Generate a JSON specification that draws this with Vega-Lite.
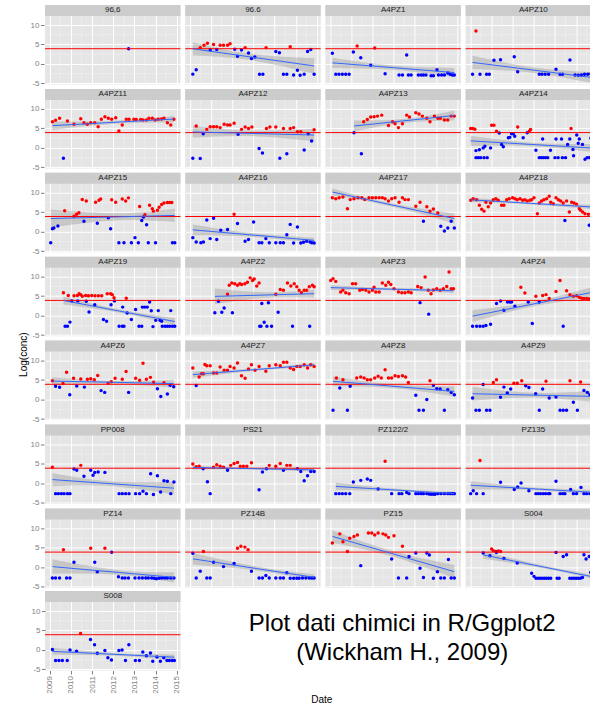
{
"$schema":"https://vega.github.io/schema/vega-lite/v6.json",
"background":"white",
"padding":{"left":19,"top":4,"right":0,"bottom":0},
"config":{"font":"Liberation Sans","view":{"fill":"#E5E5E5","stroke":null},
"axis":{"labelFont":"Liberation Sans","labelFontSize":8,"labelColor":"#7F7F7F","tickColor":"#7F7F7F","tickSize":3.5,"labelPadding":1.5,"labelOverlap":false,"labelBound":false,"labelFlush":false,"tickCount":30},
"header":{"labels":false,"labelFontSize":1,"labelPadding":0,"labelExpr":"''"},
"headerFacet":{"labels":false,"labelFontSize":1,"labelPadding":0,"labelExpr":"''"},
"title":{"font":"Liberation Sans","fontSize":10,"fontWeight":"normal","color":"#000000"}},
"datasets":{"d":[
{"p":"96,6","k":"s"},{"p":"96.6","k":"s"},{"p":"A4PZ1","k":"s"},{"p":"A4PZ10","k":"s"},{"p":"A4PZ11","k":"s"},{"p":"A4PZ12","k":"s"},{"p":"A4PZ13","k":"s"},{"p":"A4PZ14","k":"s"},{"p":"A4PZ15","k":"s"},{"p":"A4PZ16","k":"s"},{"p":"A4PZ17","k":"s"},{"p":"A4PZ18","k":"s"},{"p":"A4PZ19","k":"s"},{"p":"A4PZ2","k":"s"},{"p":"A4PZ3","k":"s"},{"p":"A4PZ4","k":"s"},{"p":"A4PZ6","k":"s"},{"p":"A4PZ7","k":"s"},{"p":"A4PZ8","k":"s"},{"p":"A4PZ9","k":"s"},{"p":"PP008","k":"s"},{"p":"PS21","k":"s"},{"p":"PZ122/2","k":"s"},{"p":"PZ135","k":"s"},{"p":"PZ14","k":"s"},{"p":"PZ14B","k":"s"},{"p":"PZ15","k":"s"},{"p":"S004","k":"s"},{"p":"S008","k":"s"},

{"p":"96.6","t":2009.14,"f":3.9,"lo":2.2,"hi":5.6},{"p":"96.6","t":2011.8,"f":1.86,"lo":1.06,"hi":2.66},{"p":"96.6","t":2014.87,"f":-0.5,"lo":-2.5,"hi":1.5},
{"p":"A4PZ1","t":2009.11,"f":0.3,"lo":-1.0,"hi":1.6},{"p":"A4PZ1","t":2012.0,"f":-0.95,"lo":-1.5,"hi":-0.4},{"p":"A4PZ1","t":2014.87,"f":-2.2,"lo":-3.4,"hi":-1.0},
{"p":"A4PZ10","t":2009.11,"f":0.4,"lo":-1.3,"hi":2.1},{"p":"A4PZ10","t":2012.0,"f":-1.58,"lo":-2.28,"hi":-0.88},{"p":"A4PZ10","t":2014.95,"f":-3.6,"lo":-5.1,"hi":-2.1},
{"p":"A4PZ11","t":2009.13,"f":5.7,"lo":4.6,"hi":6.8},{"p":"A4PZ11","t":2011.9,"f":6.52,"lo":6.12,"hi":6.92},{"p":"A4PZ11","t":2014.87,"f":7.4,"lo":6.6,"hi":8.2},
{"p":"A4PZ12","t":2009.14,"f":4.1,"lo":2.6,"hi":5.6},{"p":"A4PZ12","t":2011.8,"f":3.73,"lo":3.03,"hi":4.43},{"p":"A4PZ12","t":2014.87,"f":3.3,"lo":1.7,"hi":4.9},
{"p":"A4PZ13","t":2010.13,"f":5.6,"lo":4.15,"hi":7.05},{"p":"A4PZ13","t":2012.4,"f":6.89,"lo":6.39,"hi":7.39},{"p":"A4PZ13","t":2014.87,"f":8.3,"lo":7.05,"hi":9.55},
{"p":"A4PZ14","t":2009.02,"f":1.8,"lo":0.5,"hi":3.1},{"p":"A4PZ14","t":2011.9,"f":0.88,"lo":0.43,"hi":1.33},{"p":"A4PZ14","t":2014.95,"f":-0.1,"lo":-1.2,"hi":1.0},
{"p":"A4PZ15","t":2009.05,"f":3.4,"lo":1.1,"hi":5.7},{"p":"A4PZ15","t":2012.3,"f":3.84,"lo":2.94,"hi":4.74},{"p":"A4PZ15","t":2014.91,"f":4.2,"lo":2.5,"hi":5.9},
{"p":"A4PZ16","t":2009.14,"f":0.5,"lo":-0.9,"hi":1.9},{"p":"A4PZ16","t":2011.9,"f":-0.8,"lo":-1.3,"hi":-0.3},{"p":"A4PZ16","t":2014.87,"f":-2.2,"lo":-2.9,"hi":-1.5},
{"p":"A4PZ17","t":2009.11,"f":10.2,"lo":9.3,"hi":11.1},{"p":"A4PZ17","t":2011.9,"f":6.91,"lo":6.51,"hi":7.31},{"p":"A4PZ17","t":2014.87,"f":3.4,"lo":2.1,"hi":4.7},
{"p":"A4PZ18","t":2009.02,"f":8.2,"lo":7.6,"hi":8.8},{"p":"A4PZ18","t":2011.9,"f":7.28,"lo":7.03,"hi":7.53},{"p":"A4PZ18","t":2014.95,"f":6.3,"lo":5.7,"hi":6.9},
{"p":"A4PZ19","t":2009.65,"f":3.9,"lo":2.9,"hi":4.9},{"p":"A4PZ19","t":2012.3,"f":1.18,"lo":0.78,"hi":1.58},{"p":"A4PZ19","t":2014.91,"f":-1.5,"lo":-2.4,"hi":-0.6},
{"p":"A4PZ2","t":2010.18,"f":4.95,"lo":2.95,"hi":6.95},{"p":"A4PZ2","t":2012.6,"f":5.31,"lo":4.61,"hi":6.01},{"p":"A4PZ2","t":2014.87,"f":5.65,"lo":4.65,"hi":6.65},
{"p":"A4PZ3","t":2009.03,"f":7.2,"lo":6.6,"hi":7.8},{"p":"A4PZ3","t":2011.9,"f":6.8,"lo":6.5,"hi":7.1},{"p":"A4PZ3","t":2014.83,"f":6.4,"lo":5.8,"hi":7.0},
{"p":"A4PZ4","t":2009.11,"f":-0.1,"lo":-1.6,"hi":1.4},{"p":"A4PZ4","t":2012.0,"f":3.02,"lo":2.42,"hi":3.62},{"p":"A4PZ4","t":2014.95,"f":6.2,"lo":4.8,"hi":7.6},
{"p":"A4PZ6","t":2009.13,"f":4.75,"lo":3.75,"hi":5.75},{"p":"A4PZ6","t":2011.9,"f":4.44,"lo":4.04,"hi":4.84},{"p":"A4PZ6","t":2014.86,"f":4.1,"lo":3.1,"hi":5.1},
{"p":"A4PZ7","t":2009.14,"f":6.4,"lo":5.6,"hi":7.2},{"p":"A4PZ7","t":2012.0,"f":7.65,"lo":7.35,"hi":7.95},{"p":"A4PZ7","t":2014.87,"f":8.9,"lo":8.4,"hi":9.4},
{"p":"A4PZ8","t":2009.14,"f":4.7,"lo":3.5,"hi":5.9},{"p":"A4PZ8","t":2011.9,"f":3.45,"lo":2.95,"hi":3.95},{"p":"A4PZ8","t":2014.87,"f":2.1,"lo":0.8,"hi":3.4},
{"p":"A4PZ9","t":2009.11,"f":1.5,"lo":-0.3,"hi":3.3},{"p":"A4PZ9","t":2012.0,"f":1.15,"lo":0.55,"hi":1.75},{"p":"A4PZ9","t":2014.95,"f":0.8,"lo":-0.7,"hi":2.3},
{"p":"PP008","t":2009.13,"f":1.0,"lo":-0.7,"hi":2.7},{"p":"PP008","t":2011.8,"f":-0.02,"lo":-0.62,"hi":0.58},{"p":"PP008","t":2014.87,"f":-1.2,"lo":-2.8,"hi":0.4},
{"p":"PS21","t":2009.14,"f":4.1,"lo":3.6,"hi":4.6},{"p":"PS21","t":2011.9,"f":3.81,"lo":3.61,"hi":4.01},{"p":"PS21","t":2014.87,"f":3.5,"lo":3.0,"hi":4.0},
{"p":"PZ122/2","t":2009.27,"f":-0.75,"lo":-1.75,"hi":0.25},{"p":"PZ122/2","t":2012.4,"f":-1.78,"lo":-2.08,"hi":-1.48},{"p":"PZ122/2","t":2014.87,"f":-2.6,"lo":-3.1,"hi":-2.1},
{"p":"PZ135","t":2009.02,"f":-0.45,"lo":-1.45,"hi":0.55},{"p":"PZ135","t":2012.2,"f":-1.44,"lo":-1.79,"hi":-1.09},{"p":"PZ135","t":2014.95,"f":-2.3,"lo":-3.0,"hi":-1.6},
{"p":"PZ14","t":2009.13,"f":0.2,"lo":-1.6,"hi":2.0},{"p":"PZ14","t":2012.3,"f":-1.32,"lo":-1.92,"hi":-0.72},{"p":"PZ14","t":2014.87,"f":-2.55,"lo":-3.85,"hi":-1.25},
{"p":"PZ14B","t":2009.14,"f":2.2,"lo":0.7,"hi":3.7},{"p":"PZ14B","t":2012.2,"f":-0.34,"lo":-0.84,"hi":0.16},{"p":"PZ14B","t":2014.87,"f":-2.55,"lo":-3.35,"hi":-1.75},
{"p":"PZ15","t":2009.11,"f":7.95,"lo":6.35,"hi":9.55},{"p":"PZ15","t":2011.9,"f":3.57,"lo":2.87,"hi":4.27},{"p":"PZ15","t":2014.87,"f":-1.1,"lo":-2.8,"hi":0.6},
{"p":"S004","t":2009.61,"f":3.2,"lo":2.2,"hi":4.2},{"p":"S004","t":2012.5,"f":0.06,"lo":-0.29,"hi":0.41},{"p":"S004","t":2014.95,"f":-2.6,"lo":-3.2,"hi":-2.0},
{"p":"S008","t":2009.13,"f":-0.35,"lo":-1.25,"hi":0.55},{"p":"S008","t":2012.0,"f":-1.1,"lo":-1.45,"hi":-0.75},{"p":"S008","t":2014.89,"f":-1.85,"lo":-2.55,"hi":-1.15},

{"p":"96,6","t":2012.73,"v":3.9},

{"p":"96.6","t":2009.14,"v":-2.6},{"p":"96.6","t":2009.30,"v":-1.5},{"p":"96.6","t":2009.49,"v":4.2},{"p":"96.6","t":2009.67,"v":4.8},{"p":"96.6","t":2009.83,"v":5.3},{"p":"96.6","t":2009.96,"v":3.6},{"p":"96.6","t":2010.12,"v":5.0},{"p":"96.6","t":2010.27,"v":3.7},{"p":"96.6","t":2010.43,"v":4.8},{"p":"96.6","t":2010.59,"v":4.8},{"p":"96.6","t":2010.78,"v":4.8},{"p":"96.6","t":2010.90,"v":5.2},{"p":"96.6","t":2011.12,"v":3.8},{"p":"96.6","t":2011.25,"v":2.0},{"p":"96.6","t":2011.44,"v":3.6},{"p":"96.6","t":2011.61,"v":4.2},{"p":"96.6","t":2011.77,"v":2.8},{"p":"96.6","t":2011.91,"v":1.4},{"p":"96.6","t":2012.07,"v":1.8},{"p":"96.6","t":2012.29,"v":-2.65},{"p":"96.6","t":2012.45,"v":-2.65},{"p":"96.6","t":2012.60,"v":4.2},{"p":"96.6","t":2013.06,"v":3.2},{"p":"96.6","t":2013.23,"v":2.9},{"p":"96.6","t":2013.42,"v":-2.65},{"p":"96.6","t":2013.58,"v":-2.65},{"p":"96.6","t":2013.74,"v":4.4},{"p":"96.6","t":2013.90,"v":-2.8},{"p":"96.6","t":2014.08,"v":-1.6},{"p":"96.6","t":2014.21,"v":-2.9},{"p":"96.6","t":2014.40,"v":-2.65},{"p":"96.6","t":2014.56,"v":3.2},{"p":"96.6","t":2014.71,"v":3.7},{"p":"96.6","t":2014.87,"v":-2.65},

{"p":"A4PZ1","t":2009.11,"v":2.74},{"p":"A4PZ1","t":2009.27,"v":-2.65},{"p":"A4PZ1","t":2009.42,"v":-2.65},{"p":"A4PZ1","t":2009.58,"v":-2.65},{"p":"A4PZ1","t":2009.74,"v":-2.65},{"p":"A4PZ1","t":2009.9,"v":-2.65},{"p":"A4PZ1","t":2010.1,"v":3.08},{"p":"A4PZ1","t":2010.28,"v":4.6},{"p":"A4PZ1","t":2010.45,"v":1.62},{"p":"A4PZ1","t":2010.92,"v":-0.34},{"p":"A4PZ1","t":2011.11,"v":4.1},{"p":"A4PZ1","t":2011.6,"v":-2.48},{"p":"A4PZ1","t":2012.26,"v":-2.82},{"p":"A4PZ1","t":2012.42,"v":-2.82},{"p":"A4PZ1","t":2012.62,"v":2.31},{"p":"A4PZ1","t":2012.7,"v":-2.82},{"p":"A4PZ1","t":2012.83,"v":-2.82},{"p":"A4PZ1","t":2013.17,"v":-2.82},{"p":"A4PZ1","t":2013.3,"v":-2.82},{"p":"A4PZ1","t":2013.41,"v":-2.82},{"p":"A4PZ1","t":2013.53,"v":-2.82},{"p":"A4PZ1","t":2013.77,"v":-3.0},{"p":"A4PZ1","t":2013.88,"v":-3.0},{"p":"A4PZ1","t":2014.05,"v":-1.45},{"p":"A4PZ1","t":2014.12,"v":-2.82},{"p":"A4PZ1","t":2014.27,"v":-2.82},{"p":"A4PZ1","t":2014.4,"v":-2.82},{"p":"A4PZ1","t":2014.56,"v":-2.3},{"p":"A4PZ1","t":2014.67,"v":-2.65},{"p":"A4PZ1","t":2014.78,"v":-2.82},{"p":"A4PZ1","t":2014.87,"v":-2.82},

{"p":"A4PZ10","t":2009.11,"v":-2.65},{"p":"A4PZ10","t":2009.27,"v":8.46},{"p":"A4PZ10","t":2009.46,"v":-2.65},{"p":"A4PZ10","t":2009.77,"v":-2.65},{"p":"A4PZ10","t":2009.9,"v":-2.65},{"p":"A4PZ10","t":2010.12,"v":0.94},{"p":"A4PZ10","t":2010.43,"v":1.11},{"p":"A4PZ10","t":2011.08,"v":1.88},{"p":"A4PZ10","t":2011.24,"v":-1.97},{"p":"A4PZ10","t":2012.26,"v":-2.65},{"p":"A4PZ10","t":2012.39,"v":-2.65},{"p":"A4PZ10","t":2012.54,"v":-2.65},{"p":"A4PZ10","t":2012.7,"v":-2.65},{"p":"A4PZ10","t":2013.05,"v":-1.37},{"p":"A4PZ10","t":2013.24,"v":-2.65},{"p":"A4PZ10","t":2013.36,"v":-2.65},{"p":"A4PZ10","t":2013.71,"v":1.03},{"p":"A4PZ10","t":2013.95,"v":-2.8},{"p":"A4PZ10","t":2014.1,"v":-2.9},{"p":"A4PZ10","t":2014.25,"v":-2.8},{"p":"A4PZ10","t":2014.4,"v":-2.65},{"p":"A4PZ10","t":2014.55,"v":-2.65},{"p":"A4PZ10","t":2014.7,"v":-2.5},{"p":"A4PZ10","t":2014.85,"v":-2.45},

{"p":"A4PZ11","t":2009.13,"v":6.73},{"p":"A4PZ11","t":2009.28,"v":7.07},{"p":"A4PZ11","t":2009.47,"v":7.58},{"p":"A4PZ11","t":2009.65,"v":-2.68},{"p":"A4PZ11","t":2009.84,"v":6.9},{"p":"A4PZ11","t":2010.15,"v":6.04},{"p":"A4PZ11","t":2010.47,"v":7.48},{"p":"A4PZ11","t":2010.62,"v":6.47},{"p":"A4PZ11","t":2010.78,"v":6.04},{"p":"A4PZ11","t":2010.94,"v":6.47},{"p":"A4PZ11","t":2011.13,"v":6.47},{"p":"A4PZ11","t":2011.29,"v":5.44},{"p":"A4PZ11","t":2011.44,"v":7.33},{"p":"A4PZ11","t":2011.61,"v":8.0},{"p":"A4PZ11","t":2011.77,"v":7.58},{"p":"A4PZ11","t":2011.93,"v":7.33},{"p":"A4PZ11","t":2012.12,"v":7.75},{"p":"A4PZ11","t":2012.27,"v":4.33},{"p":"A4PZ11","t":2012.43,"v":5.87},{"p":"A4PZ11","t":2012.62,"v":7.33},{"p":"A4PZ11","t":2012.75,"v":7.33},{"p":"A4PZ11","t":2012.98,"v":7.33},{"p":"A4PZ11","t":2013.09,"v":7.3},{"p":"A4PZ11","t":2013.3,"v":7.3},{"p":"A4PZ11","t":2013.41,"v":7.15},{"p":"A4PZ11","t":2013.57,"v":7.15},{"p":"A4PZ11","t":2013.69,"v":7.58},{"p":"A4PZ11","t":2013.85,"v":7.58},{"p":"A4PZ11","t":2013.98,"v":7.15},{"p":"A4PZ11","t":2014.13,"v":7.33},{"p":"A4PZ11","t":2014.29,"v":7.4},{"p":"A4PZ11","t":2014.4,"v":7.58},{"p":"A4PZ11","t":2014.56,"v":6.47},{"p":"A4PZ11","t":2014.72,"v":5.87},{"p":"A4PZ11","t":2014.87,"v":7.33},

{"p":"A4PZ12","t":2009.14,"v":-2.68},{"p":"A4PZ12","t":2009.3,"v":5.6},{"p":"A4PZ12","t":2009.49,"v":-2.7},{"p":"A4PZ12","t":2009.63,"v":3.6},{"p":"A4PZ12","t":2009.8,"v":4.75},{"p":"A4PZ12","t":2009.96,"v":5.44},{"p":"A4PZ12","t":2010.12,"v":5.44},{"p":"A4PZ12","t":2010.27,"v":5.44},{"p":"A4PZ12","t":2010.43,"v":5.2},{"p":"A4PZ12","t":2010.62,"v":6.04},{"p":"A4PZ12","t":2010.78,"v":5.87},{"p":"A4PZ12","t":2010.9,"v":5.87},{"p":"A4PZ12","t":2011.09,"v":6.3},{"p":"A4PZ12","t":2011.28,"v":3.47},{"p":"A4PZ12","t":2011.44,"v":4.75},{"p":"A4PZ12","t":2011.61,"v":5.35},{"p":"A4PZ12","t":2011.77,"v":5.0},{"p":"A4PZ12","t":2011.93,"v":5.35},{"p":"A4PZ12","t":2012.27,"v":-0.14},{"p":"A4PZ12","t":2012.43,"v":-1.3},{"p":"A4PZ12","t":2012.62,"v":5.0},{"p":"A4PZ12","t":2012.78,"v":5.35},{"p":"A4PZ12","t":2013.06,"v":5.35},{"p":"A4PZ12","t":2013.25,"v":-2.68},{"p":"A4PZ12","t":2013.42,"v":5.0},{"p":"A4PZ12","t":2013.58,"v":-1.5},{"p":"A4PZ12","t":2013.74,"v":5.0},{"p":"A4PZ12","t":2013.9,"v":5.2},{"p":"A4PZ12","t":2014.08,"v":4.16},{"p":"A4PZ12","t":2014.24,"v":4.16},{"p":"A4PZ12","t":2014.4,"v":-0.55},{"p":"A4PZ12","t":2014.59,"v":3.6},{"p":"A4PZ12","t":2014.75,"v":1.77},{"p":"A4PZ12","t":2014.87,"v":4.67},

{"p":"A4PZ13","t":2010.13,"v":3.9},{"p":"A4PZ13","t":2010.48,"v":-1.5},{"p":"A4PZ13","t":2010.59,"v":6.7},{"p":"A4PZ13","t":2010.76,"v":7.3},{"p":"A4PZ13","t":2010.92,"v":7.9},{"p":"A4PZ13","t":2011.08,"v":8.0},{"p":"A4PZ13","t":2011.24,"v":8.15},{"p":"A4PZ13","t":2011.44,"v":8.4},{"p":"A4PZ13","t":2011.76,"v":5.75},{"p":"A4PZ13","t":2011.95,"v":6.7},{"p":"A4PZ13","t":2012.07,"v":6.2},{"p":"A4PZ13","t":2012.23,"v":5.2},{"p":"A4PZ13","t":2012.42,"v":6.2},{"p":"A4PZ13","t":2012.62,"v":8.4},{"p":"A4PZ13","t":2012.75,"v":7.9},{"p":"A4PZ13","t":2013.05,"v":9.0},{"p":"A4PZ13","t":2013.2,"v":8.7},{"p":"A4PZ13","t":2013.36,"v":8.15},{"p":"A4PZ13","t":2013.57,"v":7.6},{"p":"A4PZ13","t":2013.72,"v":6.7},{"p":"A4PZ13","t":2013.93,"v":8.15},{"p":"A4PZ13","t":2014.09,"v":7.6},{"p":"A4PZ13","t":2014.21,"v":7.6},{"p":"A4PZ13","t":2014.4,"v":7.15},{"p":"A4PZ13","t":2014.56,"v":7.15},{"p":"A4PZ13","t":2014.72,"v":8.15},{"p":"A4PZ13","t":2014.87,"v":8.15},

{"p":"A4PZ14","t":2009.02,"v":5.0},{"p":"A4PZ14","t":2009.12,"v":5.0},{"p":"A4PZ14","t":2009.22,"v":4.8},{"p":"A4PZ14","t":2009.27,"v":-0.7},{"p":"A4PZ14","t":2009.43,"v":-0.5},{"p":"A4PZ14","t":2009.61,"v":0.0},{"p":"A4PZ14","t":2009.69,"v":0.4},{"p":"A4PZ14","t":2009.96,"v":0.0},{"p":"A4PZ14","t":2009.27,"v":-2.5},{"p":"A4PZ14","t":2009.38,"v":-2.5},{"p":"A4PZ14","t":2009.49,"v":-2.5},{"p":"A4PZ14","t":2009.65,"v":-2.5},{"p":"A4PZ14","t":2009.8,"v":-2.5},{"p":"A4PZ14","t":2010.01,"v":5.8},{"p":"A4PZ14","t":2010.12,"v":5.8},{"p":"A4PZ14","t":2010.24,"v":4.3},{"p":"A4PZ14","t":2010.37,"v":3.8},{"p":"A4PZ14","t":2010.48,"v":0.9},{"p":"A4PZ14","t":2010.56,"v":0.3},{"p":"A4PZ14","t":2010.8,"v":2.6},{"p":"A4PZ14","t":2010.87,"v":2.7},{"p":"A4PZ14","t":2010.95,"v":3.6},{"p":"A4PZ14","t":2011.03,"v":3.6},{"p":"A4PZ14","t":2011.1,"v":3.0},{"p":"A4PZ14","t":2011.24,"v":5.35},{"p":"A4PZ14","t":2011.5,"v":2.6},{"p":"A4PZ14","t":2011.69,"v":3.9},{"p":"A4PZ14","t":2011.79,"v":4.3},{"p":"A4PZ14","t":2011.85,"v":4.7},{"p":"A4PZ14","t":2012.1,"v":-0.6},{"p":"A4PZ14","t":2012.26,"v":-2.5},{"p":"A4PZ14","t":2012.36,"v":-2.5},{"p":"A4PZ14","t":2012.46,"v":-2.5},{"p":"A4PZ14","t":2012.56,"v":-2.5},{"p":"A4PZ14","t":2012.66,"v":-2.5},{"p":"A4PZ14","t":2012.42,"v":2.3},{"p":"A4PZ14","t":2012.79,"v":-0.6},{"p":"A4PZ14","t":2013.0,"v":-2.5},{"p":"A4PZ14","t":2013.05,"v":2.3},{"p":"A4PZ14","t":2013.15,"v":-2.5},{"p":"A4PZ14","t":2013.31,"v":2.3},{"p":"A4PZ14","t":2013.35,"v":-2.5},{"p":"A4PZ14","t":2013.5,"v":-2.5},{"p":"A4PZ14","t":2013.6,"v":0.9},{"p":"A4PZ14","t":2013.7,"v":2.3},{"p":"A4PZ14","t":2013.76,"v":5.0},{"p":"A4PZ14","t":2013.85,"v":-0.4},{"p":"A4PZ14","t":2013.88,"v":-2.0},{"p":"A4PZ14","t":2014.03,"v":3.3},{"p":"A4PZ14","t":2014.1,"v":1.2},{"p":"A4PZ14","t":2014.15,"v":2.3},{"p":"A4PZ14","t":2014.3,"v":0.9},{"p":"A4PZ14","t":2014.42,"v":-2.9},{"p":"A4PZ14","t":2014.52,"v":-2.5},{"p":"A4PZ14","t":2014.62,"v":-2.5},{"p":"A4PZ14","t":2014.72,"v":-2.5},{"p":"A4PZ14","t":2014.7,"v":2.5},{"p":"A4PZ14","t":2014.78,"v":4.5},{"p":"A4PZ14","t":2014.85,"v":3.5},

{"p":"A4PZ15","t":2009.05,"v":-2.8},{"p":"A4PZ15","t":2009.13,"v":0.8},{"p":"A4PZ15","t":2009.2,"v":1.0},{"p":"A4PZ15","t":2009.39,"v":1.5},{"p":"A4PZ15","t":2009.71,"v":5.4},{"p":"A4PZ15","t":2010.15,"v":4.0},{"p":"A4PZ15","t":2010.27,"v":4.5},{"p":"A4PZ15","t":2010.38,"v":4.9},{"p":"A4PZ15","t":2010.54,"v":8.3},{"p":"A4PZ15","t":2010.62,"v":2.7},{"p":"A4PZ15","t":2010.73,"v":7.9},{"p":"A4PZ15","t":2011.17,"v":7.6},{"p":"A4PZ15","t":2011.25,"v":2.2},{"p":"A4PZ15","t":2011.33,"v":8.1},{"p":"A4PZ15","t":2011.41,"v":8.4},{"p":"A4PZ15","t":2011.77,"v":3.6},{"p":"A4PZ15","t":2011.88,"v":0.8},{"p":"A4PZ15","t":2011.93,"v":8.2},{"p":"A4PZ15","t":2012.12,"v":7.6},{"p":"A4PZ15","t":2012.27,"v":-2.8},{"p":"A4PZ15","t":2012.43,"v":8.4},{"p":"A4PZ15","t":2012.51,"v":-2.8},{"p":"A4PZ15","t":2012.59,"v":7.9},{"p":"A4PZ15","t":2012.72,"v":8.7},{"p":"A4PZ15","t":2012.86,"v":-2.8},{"p":"A4PZ15","t":2013.03,"v":-1.5},{"p":"A4PZ15","t":2013.19,"v":-2.8},{"p":"A4PZ15","t":2013.25,"v":6.5},{"p":"A4PZ15","t":2013.35,"v":2.9},{"p":"A4PZ15","t":2013.43,"v":3.8},{"p":"A4PZ15","t":2013.5,"v":4.4},{"p":"A4PZ15","t":2013.58,"v":1.8},{"p":"A4PZ15","t":2013.66,"v":-2.8},{"p":"A4PZ15","t":2013.72,"v":6.8},{"p":"A4PZ15","t":2013.85,"v":5.9},{"p":"A4PZ15","t":2013.9,"v":5.3},{"p":"A4PZ15","t":2014.0,"v":-2.8},{"p":"A4PZ15","t":2014.09,"v":5.5},{"p":"A4PZ15","t":2014.17,"v":6.3},{"p":"A4PZ15","t":2014.29,"v":7.0},{"p":"A4PZ15","t":2014.4,"v":7.4},{"p":"A4PZ15","t":2014.56,"v":7.5},{"p":"A4PZ15","t":2014.67,"v":7.5},{"p":"A4PZ15","t":2014.77,"v":7.5},{"p":"A4PZ15","t":2014.8,"v":-2.8},{"p":"A4PZ15","t":2014.91,"v":-2.8},

{"p":"A4PZ16","t":2009.14,"v":-1.5},{"p":"A4PZ16","t":2009.3,"v":-2.6},{"p":"A4PZ16","t":2009.52,"v":-2.8},{"p":"A4PZ16","t":2009.64,"v":-2.6},{"p":"A4PZ16","t":2009.8,"v":3.0},{"p":"A4PZ16","t":2009.96,"v":-1.75},{"p":"A4PZ16","t":2010.12,"v":3.5},{"p":"A4PZ16","t":2010.27,"v":-2.0},{"p":"A4PZ16","t":2010.46,"v":0.4},{"p":"A4PZ16","t":2010.78,"v":0.6},{"p":"A4PZ16","t":2011.09,"v":4.5},{"p":"A4PZ16","t":2011.25,"v":2.1},{"p":"A4PZ16","t":2011.61,"v":-2.4},{"p":"A4PZ16","t":2011.77,"v":-2.0},{"p":"A4PZ16","t":2012.01,"v":2.5},{"p":"A4PZ16","t":2012.27,"v":-2.8},{"p":"A4PZ16","t":2012.4,"v":-2.8},{"p":"A4PZ16","t":2012.59,"v":-1.75},{"p":"A4PZ16","t":2012.75,"v":-2.8},{"p":"A4PZ16","t":2013.06,"v":-2.8},{"p":"A4PZ16","t":2013.27,"v":-2.8},{"p":"A4PZ16","t":2013.42,"v":-2.8},{"p":"A4PZ16","t":2013.58,"v":-0.75},{"p":"A4PZ16","t":2013.74,"v":1.9},{"p":"A4PZ16","t":2013.9,"v":-2.85},{"p":"A4PZ16","t":2014.08,"v":1.25},{"p":"A4PZ16","t":2014.24,"v":-2.85},{"p":"A4PZ16","t":2014.37,"v":-2.7},{"p":"A4PZ16","t":2014.52,"v":-2.4},{"p":"A4PZ16","t":2014.68,"v":-2.6},{"p":"A4PZ16","t":2014.76,"v":-2.8},{"p":"A4PZ16","t":2014.87,"v":-2.85},

{"p":"A4PZ17","t":2009.11,"v":8.75},{"p":"A4PZ17","t":2009.27,"v":8.5},{"p":"A4PZ17","t":2009.43,"v":8.75},{"p":"A4PZ17","t":2009.61,"v":8.9},{"p":"A4PZ17","t":2009.82,"v":5.9},{"p":"A4PZ17","t":2009.95,"v":8.25},{"p":"A4PZ17","t":2010.13,"v":8.5},{"p":"A4PZ17","t":2010.32,"v":8.75},{"p":"A4PZ17","t":2010.5,"v":8.75},{"p":"A4PZ17","t":2010.64,"v":8.25},{"p":"A4PZ17","t":2010.84,"v":8.75},{"p":"A4PZ17","t":2011.0,"v":8.75},{"p":"A4PZ17","t":2011.16,"v":8.75},{"p":"A4PZ17","t":2011.32,"v":8.75},{"p":"A4PZ17","t":2011.47,"v":8.75},{"p":"A4PZ17","t":2011.6,"v":8.5},{"p":"A4PZ17","t":2011.76,"v":7.9},{"p":"A4PZ17","t":2011.91,"v":8.5},{"p":"A4PZ17","t":2012.07,"v":8.75},{"p":"A4PZ17","t":2012.26,"v":7.6},{"p":"A4PZ17","t":2012.42,"v":8.75},{"p":"A4PZ17","t":2012.54,"v":8.25},{"p":"A4PZ17","t":2012.7,"v":8.25},{"p":"A4PZ17","t":2013.05,"v":6.55},{"p":"A4PZ17","t":2013.25,"v":7.55},{"p":"A4PZ17","t":2013.41,"v":2.7},{"p":"A4PZ17","t":2013.57,"v":6.4},{"p":"A4PZ17","t":2013.72,"v":5.25},{"p":"A4PZ17","t":2013.88,"v":5.85},{"p":"A4PZ17","t":2014.09,"v":4.8},{"p":"A4PZ17","t":2014.23,"v":1.4},{"p":"A4PZ17","t":2014.4,"v":0.2},{"p":"A4PZ17","t":2014.56,"v":1.0},{"p":"A4PZ17","t":2014.72,"v":2.7},{"p":"A4PZ17","t":2014.87,"v":1.0},

{"p":"A4PZ18","t":2009.02,"v":8.1},{"p":"A4PZ18","t":2009.14,"v":8.5},{"p":"A4PZ18","t":2009.3,"v":8.2},{"p":"A4PZ18","t":2009.43,"v":6.8},{"p":"A4PZ18","t":2009.54,"v":5.8},{"p":"A4PZ18","t":2009.65,"v":5.3},{"p":"A4PZ18","t":2009.74,"v":7.6},{"p":"A4PZ18","t":2009.85,"v":6.4},{"p":"A4PZ18","t":2009.96,"v":7.4},{"p":"A4PZ18","t":2010.09,"v":8.2},{"p":"A4PZ18","t":2010.21,"v":8.5},{"p":"A4PZ18","t":2010.32,"v":8.1},{"p":"A4PZ18","t":2010.48,"v":6.8},{"p":"A4PZ18","t":2010.59,"v":6.8},{"p":"A4PZ18","t":2010.72,"v":8.2},{"p":"A4PZ18","t":2010.84,"v":8.5},{"p":"A4PZ18","t":2011.0,"v":8.75},{"p":"A4PZ18","t":2011.11,"v":8.5},{"p":"A4PZ18","t":2011.22,"v":8.2},{"p":"A4PZ18","t":2011.35,"v":8.5},{"p":"A4PZ18","t":2011.47,"v":8.1},{"p":"A4PZ18","t":2011.58,"v":8.2},{"p":"A4PZ18","t":2011.69,"v":7.9},{"p":"A4PZ18","t":2011.82,"v":8.1},{"p":"A4PZ18","t":2011.9,"v":8.2},{"p":"A4PZ18","t":2012.01,"v":8.75},{"p":"A4PZ18","t":2012.17,"v":4.6},{"p":"A4PZ18","t":2012.26,"v":7.4},{"p":"A4PZ18","t":2012.37,"v":7.9},{"p":"A4PZ18","t":2012.48,"v":8.2},{"p":"A4PZ18","t":2012.61,"v":8.5},{"p":"A4PZ18","t":2012.73,"v":9.1},{"p":"A4PZ18","t":2012.8,"v":7.6},{"p":"A4PZ18","t":2012.92,"v":7.2},{"p":"A4PZ18","t":2013.05,"v":8.75},{"p":"A4PZ18","t":2013.16,"v":8.2},{"p":"A4PZ18","t":2013.27,"v":7.9},{"p":"A4PZ18","t":2013.39,"v":7.4},{"p":"A4PZ18","t":2013.47,"v":2.9},{"p":"A4PZ18","t":2013.55,"v":7.9},{"p":"A4PZ18","t":2013.68,"v":5.1},{"p":"A4PZ18","t":2013.79,"v":7.6},{"p":"A4PZ18","t":2013.9,"v":7.4},{"p":"A4PZ18","t":2014.02,"v":7.1},{"p":"A4PZ18","t":2014.15,"v":5.9},{"p":"A4PZ18","t":2014.21,"v":5.5},{"p":"A4PZ18","t":2014.31,"v":5.1},{"p":"A4PZ18","t":2014.42,"v":4.6},{"p":"A4PZ18","t":2014.58,"v":4.5},{"p":"A4PZ18","t":2014.62,"v":1.7},{"p":"A4PZ18","t":2014.73,"v":4.6},{"p":"A4PZ18","t":2014.9,"v":5.5},

{"p":"A4PZ19","t":2009.65,"v":5.9},{"p":"A4PZ19","t":2009.73,"v":-2.7},{"p":"A4PZ19","t":2009.84,"v":-2.7},{"p":"A4PZ19","t":2009.88,"v":5.2},{"p":"A4PZ19","t":2009.96,"v":-1.65},{"p":"A4PZ19","t":2010.04,"v":3.8},{"p":"A4PZ19","t":2010.15,"v":5.1},{"p":"A4PZ19","t":2010.31,"v":5.2},{"p":"A4PZ19","t":2010.33,"v":3.8},{"p":"A4PZ19","t":2010.39,"v":5.65},{"p":"A4PZ19","t":2010.47,"v":5.4},{"p":"A4PZ19","t":2010.54,"v":5.0},{"p":"A4PZ19","t":2010.7,"v":5.2},{"p":"A4PZ19","t":2010.73,"v":3.7},{"p":"A4PZ19","t":2010.83,"v":5.1},{"p":"A4PZ19","t":2010.86,"v":0.95},{"p":"A4PZ19","t":2010.99,"v":5.2},{"p":"A4PZ19","t":2011.13,"v":2.8},{"p":"A4PZ19","t":2011.14,"v":5.1},{"p":"A4PZ19","t":2011.3,"v":5.1},{"p":"A4PZ19","t":2011.46,"v":5.1},{"p":"A4PZ19","t":2011.54,"v":-1.0},{"p":"A4PZ19","t":2011.69,"v":-1.4},{"p":"A4PZ19","t":2011.72,"v":5.65},{"p":"A4PZ19","t":2011.88,"v":5.65},{"p":"A4PZ19","t":2011.9,"v":2.8},{"p":"A4PZ19","t":2011.96,"v":5.4},{"p":"A4PZ19","t":2012.04,"v":4.6},{"p":"A4PZ19","t":2012.06,"v":3.8},{"p":"A4PZ19","t":2012.28,"v":-2.7},{"p":"A4PZ19","t":2012.43,"v":-2.7},{"p":"A4PZ19","t":2012.45,"v":2.2},{"p":"A4PZ19","t":2012.51,"v":-2.7},{"p":"A4PZ19","t":2012.62,"v":4.5},{"p":"A4PZ19","t":2012.66,"v":0.7},{"p":"A4PZ19","t":2012.86,"v":-1.0},{"p":"A4PZ19","t":2013.06,"v":1.6},{"p":"A4PZ19","t":2013.22,"v":-2.7},{"p":"A4PZ19","t":2013.35,"v":-2.7},{"p":"A4PZ19","t":2013.38,"v":2.2},{"p":"A4PZ19","t":2013.49,"v":2.2},{"p":"A4PZ19","t":2013.61,"v":2.2},{"p":"A4PZ19","t":2013.72,"v":3.5},{"p":"A4PZ19","t":2013.8,"v":1.25},{"p":"A4PZ19","t":2013.88,"v":-2.8},{"p":"A4PZ19","t":2014.01,"v":-1.2},{"p":"A4PZ19","t":2014.13,"v":1.3},{"p":"A4PZ19","t":2014.21,"v":-1.2},{"p":"A4PZ19","t":2014.29,"v":-1.4},{"p":"A4PZ19","t":2014.32,"v":-2.7},{"p":"A4PZ19","t":2014.45,"v":-2.7},{"p":"A4PZ19","t":2014.56,"v":-2.7},{"p":"A4PZ19","t":2014.67,"v":-2.7},{"p":"A4PZ19","t":2014.72,"v":1.3},{"p":"A4PZ19","t":2014.8,"v":-2.7},{"p":"A4PZ19","t":2014.91,"v":-2.7},

{"p":"A4PZ2","t":2010.18,"v":0.75},{"p":"A4PZ2","t":2010.35,"v":3.7},{"p":"A4PZ2","t":2010.51,"v":0.9},{"p":"A4PZ2","t":2010.62,"v":2.0},{"p":"A4PZ2","t":2010.78,"v":5.5},{"p":"A4PZ2","t":2010.86,"v":7.8},{"p":"A4PZ2","t":2010.98,"v":8.4},{"p":"A4PZ2","t":2011.01,"v":0.75},{"p":"A4PZ2","t":2011.12,"v":8.2},{"p":"A4PZ2","t":2011.25,"v":7.8},{"p":"A4PZ2","t":2011.36,"v":8.2},{"p":"A4PZ2","t":2011.45,"v":8.0},{"p":"A4PZ2","t":2011.6,"v":8.2},{"p":"A4PZ2","t":2011.72,"v":8.6},{"p":"A4PZ2","t":2011.85,"v":9.7},{"p":"A4PZ2","t":2011.96,"v":9.0},{"p":"A4PZ2","t":2012.04,"v":9.4},{"p":"A4PZ2","t":2012.16,"v":7.6},{"p":"A4PZ2","t":2012.27,"v":8.4},{"p":"A4PZ2","t":2012.3,"v":-2.7},{"p":"A4PZ2","t":2012.36,"v":-2.7},{"p":"A4PZ2","t":2012.4,"v":3.1},{"p":"A4PZ2","t":2012.51,"v":-1.7},{"p":"A4PZ2","t":2012.64,"v":-2.7},{"p":"A4PZ2","t":2012.71,"v":3.3},{"p":"A4PZ2","t":2012.86,"v":-2.7},{"p":"A4PZ2","t":2013.06,"v":5.5},{"p":"A4PZ2","t":2013.17,"v":0.9},{"p":"A4PZ2","t":2013.27,"v":6.7},{"p":"A4PZ2","t":2013.42,"v":6.5},{"p":"A4PZ2","t":2013.61,"v":8.4},{"p":"A4PZ2","t":2013.77,"v":7.6},{"p":"A4PZ2","t":2013.85,"v":-2.7},{"p":"A4PZ2","t":2013.93,"v":8.2},{"p":"A4PZ2","t":2014.05,"v":7.4},{"p":"A4PZ2","t":2014.16,"v":6.5},{"p":"A4PZ2","t":2014.27,"v":5.9},{"p":"A4PZ2","t":2014.4,"v":6.5},{"p":"A4PZ2","t":2014.52,"v":6.5},{"p":"A4PZ2","t":2014.64,"v":7.4},{"p":"A4PZ2","t":2014.66,"v":-2.7},{"p":"A4PZ2","t":2014.79,"v":7.8},{"p":"A4PZ2","t":2014.87,"v":7.4},

{"p":"A4PZ3","t":2009.03,"v":9.0},{"p":"A4PZ3","t":2009.14,"v":9.5},{"p":"A4PZ3","t":2009.27,"v":8.8},{"p":"A4PZ3","t":2009.5,"v":6.1},{"p":"A4PZ3","t":2009.61,"v":6.5},{"p":"A4PZ3","t":2009.74,"v":5.9},{"p":"A4PZ3","t":2009.9,"v":5.6},{"p":"A4PZ3","t":2010.06,"v":8.2},{"p":"A4PZ3","t":2010.21,"v":8.2},{"p":"A4PZ3","t":2010.4,"v":6.5},{"p":"A4PZ3","t":2010.53,"v":6.7},{"p":"A4PZ3","t":2010.69,"v":6.5},{"p":"A4PZ3","t":2010.84,"v":6.1},{"p":"A4PZ3","t":2011.0,"v":6.5},{"p":"A4PZ3","t":2011.08,"v":7.3},{"p":"A4PZ3","t":2011.16,"v":6.1},{"p":"A4PZ3","t":2011.32,"v":6.1},{"p":"A4PZ3","t":2011.47,"v":8.4},{"p":"A4PZ3","t":2011.63,"v":7.8},{"p":"A4PZ3","t":2011.76,"v":8.6},{"p":"A4PZ3","t":2011.87,"v":8.0},{"p":"A4PZ3","t":2012.02,"v":6.9},{"p":"A4PZ3","t":2012.23,"v":6.1},{"p":"A4PZ3","t":2012.39,"v":5.9},{"p":"A4PZ3","t":2012.54,"v":5.9},{"p":"A4PZ3","t":2012.7,"v":6.1},{"p":"A4PZ3","t":2012.83,"v":5.9},{"p":"A4PZ3","t":2013.14,"v":7.5},{"p":"A4PZ3","t":2013.25,"v":3.35},{"p":"A4PZ3","t":2013.3,"v":7.2},{"p":"A4PZ3","t":2013.49,"v":9.9},{"p":"A4PZ3","t":2013.64,"v":6.5},{"p":"A4PZ3","t":2013.66,"v":0.4},{"p":"A4PZ3","t":2013.77,"v":5.6},{"p":"A4PZ3","t":2013.88,"v":6.6},{"p":"A4PZ3","t":2014.04,"v":6.9},{"p":"A4PZ3","t":2014.2,"v":6.5},{"p":"A4PZ3","t":2014.35,"v":6.9},{"p":"A4PZ3","t":2014.51,"v":7.5},{"p":"A4PZ3","t":2014.62,"v":11.2},{"p":"A4PZ3","t":2014.72,"v":6.9},{"p":"A4PZ3","t":2014.83,"v":6.9},

{"p":"A4PZ4","t":2009.11,"v":-2.7},{"p":"A4PZ4","t":2009.3,"v":-2.7},{"p":"A4PZ4","t":2009.46,"v":-2.7},{"p":"A4PZ4","t":2009.61,"v":-2.7},{"p":"A4PZ4","t":2009.74,"v":-2.5},{"p":"A4PZ4","t":2009.96,"v":-2.2},{"p":"A4PZ4","t":2010.24,"v":3.1},{"p":"A4PZ4","t":2010.43,"v":3.75},{"p":"A4PZ4","t":2010.59,"v":1.4},{"p":"A4PZ4","t":2010.76,"v":3.5},{"p":"A4PZ4","t":2010.87,"v":3.5},{"p":"A4PZ4","t":2010.95,"v":3.5},{"p":"A4PZ4","t":2011.11,"v":2.4},{"p":"A4PZ4","t":2011.39,"v":7.3},{"p":"A4PZ4","t":2011.58,"v":5.8},{"p":"A4PZ4","t":2011.74,"v":3.5},{"p":"A4PZ4","t":2011.93,"v":-2.0},{"p":"A4PZ4","t":2012.1,"v":5.0},{"p":"A4PZ4","t":2012.26,"v":3.5},{"p":"A4PZ4","t":2012.42,"v":5.2},{"p":"A4PZ4","t":2012.58,"v":5.4},{"p":"A4PZ4","t":2012.73,"v":4.4},{"p":"A4PZ4","t":2013.05,"v":6.2},{"p":"A4PZ4","t":2013.24,"v":9.0},{"p":"A4PZ4","t":2013.39,"v":-2.7},{"p":"A4PZ4","t":2013.55,"v":6.4},{"p":"A4PZ4","t":2013.71,"v":5.4},{"p":"A4PZ4","t":2013.87,"v":5.0},{"p":"A4PZ4","t":2014.02,"v":5.1},{"p":"A4PZ4","t":2014.15,"v":4.7},{"p":"A4PZ4","t":2014.26,"v":4.5},{"p":"A4PZ4","t":2014.37,"v":4.4},{"p":"A4PZ4","t":2014.5,"v":4.4},{"p":"A4PZ4","t":2014.62,"v":4.3},{"p":"A4PZ4","t":2014.73,"v":4.1},{"p":"A4PZ4","t":2014.81,"v":3.3},

{"p":"A4PZ6","t":2009.13,"v":4.85},{"p":"A4PZ6","t":2009.28,"v":3.4},{"p":"A4PZ6","t":2009.47,"v":3.15},{"p":"A4PZ6","t":2009.63,"v":4.1},{"p":"A4PZ6","t":2009.8,"v":7.0},{"p":"A4PZ6","t":2009.95,"v":1.25},{"p":"A4PZ6","t":2010.13,"v":5.45},{"p":"A4PZ6","t":2010.28,"v":3.5},{"p":"A4PZ6","t":2010.47,"v":5.3},{"p":"A4PZ6","t":2010.64,"v":3.2},{"p":"A4PZ6","t":2010.78,"v":5.2},{"p":"A4PZ6","t":2010.94,"v":5.35},{"p":"A4PZ6","t":2011.11,"v":5.1},{"p":"A4PZ6","t":2011.27,"v":6.2},{"p":"A4PZ6","t":2011.43,"v":2.3},{"p":"A4PZ6","t":2011.6,"v":1.85},{"p":"A4PZ6","t":2011.76,"v":4.2},{"p":"A4PZ6","t":2011.91,"v":4.6},{"p":"A4PZ6","t":2012.09,"v":5.5},{"p":"A4PZ6","t":2012.43,"v":5.2},{"p":"A4PZ6","t":2012.61,"v":7.2},{"p":"A4PZ6","t":2012.73,"v":1.85},{"p":"A4PZ6","t":2013.06,"v":5.45},{"p":"A4PZ6","t":2013.25,"v":4.95},{"p":"A4PZ6","t":2013.41,"v":9.3},{"p":"A4PZ6","t":2013.57,"v":5.2},{"p":"A4PZ6","t":2013.76,"v":5.7},{"p":"A4PZ6","t":2013.91,"v":4.45},{"p":"A4PZ6","t":2014.09,"v":2.8},{"p":"A4PZ6","t":2014.25,"v":0.8},{"p":"A4PZ6","t":2014.4,"v":4.3},{"p":"A4PZ6","t":2014.56,"v":1.45},{"p":"A4PZ6","t":2014.69,"v":3.65},{"p":"A4PZ6","t":2014.86,"v":3.3},

{"p":"A4PZ7","t":2009.14,"v":8.1},{"p":"A4PZ7","t":2009.3,"v":3.6},{"p":"A4PZ7","t":2009.44,"v":5.8},{"p":"A4PZ7","t":2009.55,"v":6.65},{"p":"A4PZ7","t":2009.64,"v":6.65},{"p":"A4PZ7","t":2009.71,"v":9.0},{"p":"A4PZ7","t":2009.8,"v":8.7},{"p":"A4PZ7","t":2009.96,"v":8.7},{"p":"A4PZ7","t":2010.12,"v":6.8},{"p":"A4PZ7","t":2010.27,"v":6.8},{"p":"A4PZ7","t":2010.43,"v":8.35},{"p":"A4PZ7","t":2010.62,"v":7.5},{"p":"A4PZ7","t":2010.78,"v":7.5},{"p":"A4PZ7","t":2010.9,"v":8.5},{"p":"A4PZ7","t":2011.09,"v":8.1},{"p":"A4PZ7","t":2011.25,"v":9.4},{"p":"A4PZ7","t":2011.44,"v":6.1},{"p":"A4PZ7","t":2011.61,"v":5.5},{"p":"A4PZ7","t":2011.77,"v":7.85},{"p":"A4PZ7","t":2011.91,"v":8.95},{"p":"A4PZ7","t":2012.08,"v":7.5},{"p":"A4PZ7","t":2012.27,"v":8.5},{"p":"A4PZ7","t":2012.59,"v":7.25},{"p":"A4PZ7","t":2012.75,"v":8.7},{"p":"A4PZ7","t":2013.06,"v":8.95},{"p":"A4PZ7","t":2013.27,"v":8.7},{"p":"A4PZ7","t":2013.42,"v":9.55},{"p":"A4PZ7","t":2013.58,"v":9.55},{"p":"A4PZ7","t":2013.74,"v":8.1},{"p":"A4PZ7","t":2013.9,"v":7.7},{"p":"A4PZ7","t":2014.05,"v":8.5},{"p":"A4PZ7","t":2014.21,"v":8.5},{"p":"A4PZ7","t":2014.4,"v":8.95},{"p":"A4PZ7","t":2014.56,"v":8.1},{"p":"A4PZ7","t":2014.71,"v":8.95},{"p":"A4PZ7","t":2014.87,"v":8.5},

{"p":"A4PZ8","t":2009.14,"v":-2.75},{"p":"A4PZ8","t":2009.3,"v":5.55},{"p":"A4PZ8","t":2009.46,"v":2.95},{"p":"A4PZ8","t":2009.61,"v":5.1},{"p":"A4PZ8","t":2009.82,"v":-2.75},{"p":"A4PZ8","t":2009.95,"v":3.4},{"p":"A4PZ8","t":2010.26,"v":5.55},{"p":"A4PZ8","t":2010.45,"v":5.8},{"p":"A4PZ8","t":2010.61,"v":5.55},{"p":"A4PZ8","t":2010.76,"v":5.1},{"p":"A4PZ8","t":2010.92,"v":5.1},{"p":"A4PZ8","t":2011.11,"v":5.55},{"p":"A4PZ8","t":2011.27,"v":6.0},{"p":"A4PZ8","t":2011.42,"v":5.55},{"p":"A4PZ8","t":2011.6,"v":7.65},{"p":"A4PZ8","t":2011.76,"v":5.55},{"p":"A4PZ8","t":2011.91,"v":5.55},{"p":"A4PZ8","t":2012.07,"v":6.1},{"p":"A4PZ8","t":2012.23,"v":5.9},{"p":"A4PZ8","t":2012.42,"v":6.1},{"p":"A4PZ8","t":2012.57,"v":5.8},{"p":"A4PZ8","t":2012.7,"v":4.4},{"p":"A4PZ8","t":2013.05,"v":1.1},{"p":"A4PZ8","t":2013.2,"v":-2.75},{"p":"A4PZ8","t":2013.41,"v":-2.75},{"p":"A4PZ8","t":2013.57,"v":0.0},{"p":"A4PZ8","t":2013.72,"v":4.85},{"p":"A4PZ8","t":2013.88,"v":3.65},{"p":"A4PZ8","t":2014.04,"v":2.8},{"p":"A4PZ8","t":2014.2,"v":2.7},{"p":"A4PZ8","t":2014.4,"v":-2.75},{"p":"A4PZ8","t":2014.56,"v":2.5},{"p":"A4PZ8","t":2014.72,"v":1.85},{"p":"A4PZ8","t":2014.87,"v":1.25},

{"p":"A4PZ9","t":2009.11,"v":0.4},{"p":"A4PZ9","t":2009.27,"v":-2.75},{"p":"A4PZ9","t":2009.43,"v":-2.75},{"p":"A4PZ9","t":2009.61,"v":3.85},{"p":"A4PZ9","t":2009.77,"v":-2.75},{"p":"A4PZ9","t":2009.93,"v":-2.75},{"p":"A4PZ9","t":2010.09,"v":4.4},{"p":"A4PZ9","t":2010.24,"v":5.1},{"p":"A4PZ9","t":2010.43,"v":0.6},{"p":"A4PZ9","t":2010.59,"v":3.2},{"p":"A4PZ9","t":2010.75,"v":1.7},{"p":"A4PZ9","t":2010.91,"v":2.7},{"p":"A4PZ9","t":2011.06,"v":4.2},{"p":"A4PZ9","t":2011.22,"v":4.2},{"p":"A4PZ9","t":2011.43,"v":4.85},{"p":"A4PZ9","t":2011.62,"v":3.55},{"p":"A4PZ9","t":2011.77,"v":3.1},{"p":"A4PZ9","t":2012.09,"v":1.5},{"p":"A4PZ9","t":2012.26,"v":-2.75},{"p":"A4PZ9","t":2012.42,"v":2.7},{"p":"A4PZ9","t":2012.58,"v":4.7},{"p":"A4PZ9","t":2012.73,"v":0.4},{"p":"A4PZ9","t":2013.05,"v":0.65},{"p":"A4PZ9","t":2013.24,"v":-2.75},{"p":"A4PZ9","t":2013.39,"v":-2.75},{"p":"A4PZ9","t":2013.55,"v":-2.75},{"p":"A4PZ9","t":2013.71,"v":4.85},{"p":"A4PZ9","t":2013.87,"v":-0.7},{"p":"A4PZ9","t":2014.06,"v":-2.75},{"p":"A4PZ9","t":2014.21,"v":4.5},{"p":"A4PZ9","t":2014.37,"v":2.35},{"p":"A4PZ9","t":2014.53,"v":1.85},{"p":"A4PZ9","t":2014.65,"v":1.25},{"p":"A4PZ9","t":2014.73,"v":3.4},

{"p":"PP008","t":2009.13,"v":4.15},{"p":"PP008","t":2009.28,"v":-2.6},{"p":"PP008","t":2009.41,"v":-2.6},{"p":"PP008","t":2009.55,"v":-2.6},{"p":"PP008","t":2009.68,"v":-2.6},{"p":"PP008","t":2009.84,"v":-2.6},{"p":"PP008","t":2009.96,"v":-2.6},{"p":"PP008","t":2010.15,"v":3.7},{"p":"PP008","t":2010.28,"v":3.4},{"p":"PP008","t":2010.47,"v":4.65},{"p":"PP008","t":2010.62,"v":1.85},{"p":"PP008","t":2010.94,"v":3.4},{"p":"PP008","t":2011.05,"v":2.1},{"p":"PP008","t":2011.13,"v":2.85},{"p":"PP008","t":2011.29,"v":2.95},{"p":"PP008","t":2011.61,"v":2.85},{"p":"PP008","t":2012.28,"v":-2.6},{"p":"PP008","t":2012.43,"v":-2.6},{"p":"PP008","t":2012.59,"v":-2.6},{"p":"PP008","t":2012.75,"v":-2.6},{"p":"PP008","t":2013.06,"v":-2.6},{"p":"PP008","t":2013.25,"v":-2.6},{"p":"PP008","t":2013.41,"v":-2.0},{"p":"PP008","t":2013.57,"v":-2.6},{"p":"PP008","t":2013.77,"v":2.5},{"p":"PP008","t":2013.9,"v":-2.85},{"p":"PP008","t":2014.09,"v":2.0},{"p":"PP008","t":2014.24,"v":-2.2},{"p":"PP008","t":2014.4,"v":0.7},{"p":"PP008","t":2014.56,"v":0.55},{"p":"PP008","t":2014.72,"v":-2.6},{"p":"PP008","t":2014.87,"v":0.4},

{"p":"PS21","t":2009.14,"v":5.0},{"p":"PS21","t":2009.3,"v":4.3},{"p":"PS21","t":2009.44,"v":4.4},{"p":"PS21","t":2009.63,"v":3.8},{"p":"PS21","t":2009.83,"v":0.45},{"p":"PS21","t":2009.96,"v":-2.6},{"p":"PS21","t":2010.12,"v":4.2},{"p":"PS21","t":2010.27,"v":4.8},{"p":"PS21","t":2010.43,"v":4.4},{"p":"PS21","t":2010.59,"v":4.2},{"p":"PS21","t":2010.78,"v":3.4},{"p":"PS21","t":2010.93,"v":4.65},{"p":"PS21","t":2011.09,"v":5.1},{"p":"PS21","t":2011.25,"v":5.4},{"p":"PS21","t":2011.38,"v":4.4},{"p":"PS21","t":2011.53,"v":4.4},{"p":"PS21","t":2011.69,"v":4.4},{"p":"PS21","t":2011.91,"v":5.3},{"p":"PS21","t":2012.27,"v":-1.6},{"p":"PS21","t":2012.43,"v":2.95},{"p":"PS21","t":2012.62,"v":3.8},{"p":"PS21","t":2012.75,"v":4.65},{"p":"PS21","t":2013.06,"v":4.4},{"p":"PS21","t":2013.27,"v":5.1},{"p":"PS21","t":2013.42,"v":3.4},{"p":"PS21","t":2013.58,"v":4.65},{"p":"PS21","t":2013.74,"v":4.65},{"p":"PS21","t":2014.08,"v":3.8},{"p":"PS21","t":2014.24,"v":3.1},{"p":"PS21","t":2014.4,"v":0.7},{"p":"PS21","t":2014.56,"v":2.0},{"p":"PS21","t":2014.71,"v":3.1},{"p":"PS21","t":2014.87,"v":3.1},

{"p":"PZ122/2","t":2009.27,"v":-2.6},{"p":"PZ122/2","t":2009.43,"v":-2.6},{"p":"PZ122/2","t":2009.58,"v":-2.6},{"p":"PZ122/2","t":2009.74,"v":-2.6},{"p":"PZ122/2","t":2009.93,"v":-2.6},{"p":"PZ122/2","t":2010.1,"v":0.4},{"p":"PZ122/2","t":2010.45,"v":0.8},{"p":"PZ122/2","t":2010.76,"v":1.15},{"p":"PZ122/2","t":2010.92,"v":0.8},{"p":"PZ122/2","t":2011.27,"v":-1.4},{"p":"PZ122/2","t":2011.6,"v":5.7},{"p":"PZ122/2","t":2011.91,"v":-2.6},{"p":"PZ122/2","t":2012.26,"v":-2.6},{"p":"PZ122/2","t":2012.39,"v":-2.6},{"p":"PZ122/2","t":2012.62,"v":-2.3},{"p":"PZ122/2","t":2012.73,"v":-2.6},{"p":"PZ122/2","t":2013.05,"v":-2.6},{"p":"PZ122/2","t":2013.17,"v":-2.6},{"p":"PZ122/2","t":2013.3,"v":-2.6},{"p":"PZ122/2","t":2013.41,"v":-2.6},{"p":"PZ122/2","t":2013.57,"v":-2.6},{"p":"PZ122/2","t":2013.68,"v":-2.7},{"p":"PZ122/2","t":2013.77,"v":-2.75},{"p":"PZ122/2","t":2013.88,"v":-2.75},{"p":"PZ122/2","t":2013.96,"v":-2.75},{"p":"PZ122/2","t":2014.09,"v":-2.6},{"p":"PZ122/2","t":2014.24,"v":-2.6},{"p":"PZ122/2","t":2014.4,"v":-2.6},{"p":"PZ122/2","t":2014.56,"v":-2.6},{"p":"PZ122/2","t":2014.67,"v":-2.6},{"p":"PZ122/2","t":2014.78,"v":-2.6},{"p":"PZ122/2","t":2014.87,"v":-2.6},

{"p":"PZ135","t":2009.02,"v":-2.6},{"p":"PZ135","t":2009.14,"v":-1.85},{"p":"PZ135","t":2009.3,"v":-2.6},{"p":"PZ135","t":2009.46,"v":5.9},{"p":"PZ135","t":2009.61,"v":-2.6},{"p":"PZ135","t":2010.43,"v":0.3},{"p":"PZ135","t":2011.08,"v":-1.55},{"p":"PZ135","t":2011.24,"v":-0.9},{"p":"PZ135","t":2011.4,"v":0.1},{"p":"PZ135","t":2011.77,"v":-1.85},{"p":"PZ135","t":2012.1,"v":-2.6},{"p":"PZ135","t":2012.21,"v":-2.6},{"p":"PZ135","t":2012.32,"v":-2.6},{"p":"PZ135","t":2012.45,"v":-2.6},{"p":"PZ135","t":2012.56,"v":-2.6},{"p":"PZ135","t":2012.69,"v":-2.6},{"p":"PZ135","t":2012.76,"v":-2.6},{"p":"PZ135","t":2013.05,"v":0.55},{"p":"PZ135","t":2013.24,"v":-2.6},{"p":"PZ135","t":2013.36,"v":-2.6},{"p":"PZ135","t":2013.47,"v":-2.6},{"p":"PZ135","t":2013.74,"v":-1.55},{"p":"PZ135","t":2013.87,"v":-2.6},{"p":"PZ135","t":2014.02,"v":-2.6},{"p":"PZ135","t":2014.23,"v":-1.0},{"p":"PZ135","t":2014.37,"v":-2.6},{"p":"PZ135","t":2014.5,"v":-2.6},{"p":"PZ135","t":2014.65,"v":-2.6},{"p":"PZ135","t":2014.81,"v":-2.6},

{"p":"PZ14","t":2009.13,"v":-2.7},{"p":"PZ14","t":2009.28,"v":-2.7},{"p":"PZ14","t":2009.47,"v":-2.7},{"p":"PZ14","t":2009.65,"v":4.55},{"p":"PZ14","t":2009.8,"v":-2.7},{"p":"PZ14","t":2009.96,"v":-2.7},{"p":"PZ14","t":2010.15,"v":1.3},{"p":"PZ14","t":2010.94,"v":4.9},{"p":"PZ14","t":2011.13,"v":1.3},{"p":"PZ14","t":2011.25,"v":-1.1},{"p":"PZ14","t":2011.61,"v":4.9},{"p":"PZ14","t":2011.93,"v":3.9},{"p":"PZ14","t":2012.25,"v":-2.4},{"p":"PZ14","t":2012.43,"v":-2.7},{"p":"PZ14","t":2012.56,"v":-2.7},{"p":"PZ14","t":2012.72,"v":-2.7},{"p":"PZ14","t":2013.03,"v":-2.7},{"p":"PZ14","t":2013.22,"v":-2.7},{"p":"PZ14","t":2013.38,"v":-2.7},{"p":"PZ14","t":2013.54,"v":-2.7},{"p":"PZ14","t":2013.66,"v":-2.7},{"p":"PZ14","t":2013.82,"v":-2.7},{"p":"PZ14","t":2013.93,"v":-2.8},{"p":"PZ14","t":2014.04,"v":-2.9},{"p":"PZ14","t":2014.17,"v":-2.8},{"p":"PZ14","t":2014.29,"v":-2.7},{"p":"PZ14","t":2014.43,"v":-2.7},{"p":"PZ14","t":2014.56,"v":-2.7},{"p":"PZ14","t":2014.72,"v":-2.7},{"p":"PZ14","t":2014.87,"v":-2.7},

{"p":"PZ14B","t":2009.14,"v":3.6},{"p":"PZ14B","t":2009.3,"v":-2.7},{"p":"PZ14B","t":2009.49,"v":-1.0},{"p":"PZ14B","t":2009.64,"v":4.1},{"p":"PZ14B","t":2009.8,"v":-2.7},{"p":"PZ14B","t":2009.96,"v":-2.7},{"p":"PZ14B","t":2010.12,"v":1.3},{"p":"PZ14B","t":2010.59,"v":0.2},{"p":"PZ14B","t":2011.09,"v":1.0},{"p":"PZ14B","t":2011.25,"v":4.9},{"p":"PZ14B","t":2011.41,"v":5.4},{"p":"PZ14B","t":2011.6,"v":5.2},{"p":"PZ14B","t":2011.75,"v":4.55},{"p":"PZ14B","t":2011.91,"v":-1.0},{"p":"PZ14B","t":2012.27,"v":-2.7},{"p":"PZ14B","t":2012.43,"v":-2.7},{"p":"PZ14B","t":2012.59,"v":-2.1},{"p":"PZ14B","t":2012.75,"v":-2.7},{"p":"PZ14B","t":2013.06,"v":-2.7},{"p":"PZ14B","t":2013.27,"v":-2.7},{"p":"PZ14B","t":2013.42,"v":-2.7},{"p":"PZ14B","t":2013.58,"v":-1.4},{"p":"PZ14B","t":2013.74,"v":-2.8},{"p":"PZ14B","t":2013.9,"v":-2.8},{"p":"PZ14B","t":2014.05,"v":-2.8},{"p":"PZ14B","t":2014.16,"v":-2.8},{"p":"PZ14B","t":2014.32,"v":-2.7},{"p":"PZ14B","t":2014.48,"v":-2.7},{"p":"PZ14B","t":2014.64,"v":-2.7},{"p":"PZ14B","t":2014.76,"v":-2.7},{"p":"PZ14B","t":2014.87,"v":-2.7},

{"p":"PZ15","t":2009.11,"v":6.25},{"p":"PZ15","t":2009.46,"v":8.6},{"p":"PZ15","t":2009.61,"v":6.6},{"p":"PZ15","t":2009.82,"v":4.1},{"p":"PZ15","t":2009.93,"v":7.45},{"p":"PZ15","t":2010.13,"v":7.95},{"p":"PZ15","t":2010.29,"v":8.3},{"p":"PZ15","t":2010.45,"v":0.45},{"p":"PZ15","t":2010.81,"v":8.8},{"p":"PZ15","t":2010.97,"v":8.8},{"p":"PZ15","t":2011.11,"v":8.3},{"p":"PZ15","t":2011.27,"v":8.8},{"p":"PZ15","t":2011.5,"v":8.6},{"p":"PZ15","t":2011.63,"v":8.3},{"p":"PZ15","t":2011.76,"v":7.7},{"p":"PZ15","t":2011.91,"v":2.15},{"p":"PZ15","t":2012.02,"v":8.1},{"p":"PZ15","t":2012.23,"v":-2.7},{"p":"PZ15","t":2012.42,"v":5.4},{"p":"PZ15","t":2012.62,"v":-2.7},{"p":"PZ15","t":2012.73,"v":2.8},{"p":"PZ15","t":2013.05,"v":3.7},{"p":"PZ15","t":2013.25,"v":-0.2},{"p":"PZ15","t":2013.41,"v":-2.6},{"p":"PZ15","t":2013.57,"v":3.7},{"p":"PZ15","t":2013.69,"v":3.2},{"p":"PZ15","t":2013.88,"v":-2.8},{"p":"PZ15","t":2014.07,"v":-1.1},{"p":"PZ15","t":2014.23,"v":-2.7},{"p":"PZ15","t":2014.4,"v":-2.7},{"p":"PZ15","t":2014.59,"v":2.0},{"p":"PZ15","t":2014.72,"v":-2.7},{"p":"PZ15","t":2014.87,"v":-2.7},

{"p":"S004","t":2009.61,"v":3.7},{"p":"S004","t":2009.93,"v":3.0},{"p":"S004","t":2010.01,"v":4.7},{"p":"S004","t":2010.09,"v":4.3},{"p":"S004","t":2010.21,"v":4.1},{"p":"S004","t":2010.24,"v":3.85},{"p":"S004","t":2010.33,"v":4.2},{"p":"S004","t":2010.43,"v":4.1},{"p":"S004","t":2010.59,"v":2.3},{"p":"S004","t":2011.22,"v":1.1},{"p":"S004","t":2011.9,"v":-1.5},{"p":"S004","t":2012.01,"v":-2.3},{"p":"S004","t":2012.1,"v":-2.8},{"p":"S004","t":2012.2,"v":-2.8},{"p":"S004","t":2012.3,"v":-2.8},{"p":"S004","t":2012.4,"v":-2.8},{"p":"S004","t":2012.5,"v":-2.8},{"p":"S004","t":2012.6,"v":-2.8},{"p":"S004","t":2012.7,"v":-2.8},{"p":"S004","t":2012.8,"v":-2.8},{"p":"S004","t":2013.05,"v":3.85},{"p":"S004","t":2013.1,"v":-2.8},{"p":"S004","t":2013.2,"v":-2.8},{"p":"S004","t":2013.39,"v":2.8},{"p":"S004","t":2013.55,"v":3.25},{"p":"S004","t":2013.7,"v":-2.8},{"p":"S004","t":2013.8,"v":-2.8},{"p":"S004","t":2013.9,"v":-2.8},{"p":"S004","t":2014.0,"v":-2.8},{"p":"S004","t":2014.1,"v":-2.8},{"p":"S004","t":2014.2,"v":-2.8},{"p":"S004","t":2014.3,"v":-2.6},{"p":"S004","t":2014.37,"v":3.25},{"p":"S004","t":2014.47,"v":2.15},{"p":"S004","t":2014.62,"v":2.8},{"p":"S004","t":2014.69,"v":-1.3},{"p":"S004","t":2014.78,"v":-2.5},{"p":"S004","t":2014.9,"v":-2.4},

{"p":"S008","t":2009.13,"v":0.15},{"p":"S008","t":2009.28,"v":-2.7},{"p":"S008","t":2009.44,"v":-2.7},{"p":"S008","t":2009.6,"v":-2.7},{"p":"S008","t":2009.83,"v":-2.7},{"p":"S008","t":2009.96,"v":0.0},{"p":"S008","t":2010.27,"v":-0.35},{"p":"S008","t":2010.46,"v":4.25},{"p":"S008","t":2010.93,"v":2.7},{"p":"S008","t":2011.12,"v":1.35},{"p":"S008","t":2011.25,"v":-0.85},{"p":"S008","t":2011.61,"v":-0.15},{"p":"S008","t":2011.75,"v":-2.0},{"p":"S008","t":2011.92,"v":-2.55},{"p":"S008","t":2012.27,"v":-0.15},{"p":"S008","t":2012.42,"v":0.0},{"p":"S008","t":2012.58,"v":-2.7},{"p":"S008","t":2012.74,"v":1.35},{"p":"S008","t":2013.05,"v":-2.7},{"p":"S008","t":2013.24,"v":-2.7},{"p":"S008","t":2013.4,"v":-0.5},{"p":"S008","t":2013.57,"v":-1.45},{"p":"S008","t":2013.76,"v":-0.75},{"p":"S008","t":2013.87,"v":-2.9},{"p":"S008","t":2014.07,"v":-1.8},{"p":"S008","t":2014.23,"v":-2.9},{"p":"S008","t":2014.39,"v":-2.0},{"p":"S008","t":2014.54,"v":-2.7},{"p":"S008","t":2014.65,"v":-2.7},{"p":"S008","t":2014.78,"v":-2.7},{"p":"S008","t":2014.89,"v":-2.7}
]},
"title":{"text":"Log(conc)","orient":"left","anchor":"middle","offset":1},
"vconcat":[{
"title":{"text":"Date","orient":"bottom","anchor":"middle","offset":2,"dx":6},
"spacing":0,
"vconcat":[
{"data":{"name":"d"},
"transform":[{"filter":"datum.p !== 'S008'"}],
"facet":{"field":"p","type":"nominal","header":{"title":null,"labels":false,"labelFontSize":1,"labelPadding":0,"labelExpr":"''"},"sort":["96,6","96.6","A4PZ1","A4PZ10","A4PZ11","A4PZ12","A4PZ13","A4PZ14","A4PZ15","A4PZ16","A4PZ17","A4PZ18","A4PZ19","A4PZ2","A4PZ3","A4PZ4","A4PZ6","A4PZ7","A4PZ8","A4PZ9","PP008","PS21","PZ122/2","PZ135","PZ14","PZ14B","PZ15","S004"]},
"columns":4,
"spacing":{"row":2.9,"column":3.2},
"spec":{"width":135.5,"height":79.5,
"layer":[
{"transform":[{"filter":"datum.k === 's'"}],"mark":{"type":"rule","color":"#F2F2F2","strokeWidth":0.6},"encoding":{"y":{"datum":-2.5,"type":"quantitative"}}},
{"transform":[{"filter":"datum.k === 's'"}],"mark":{"type":"rule","color":"#F2F2F2","strokeWidth":0.6},"encoding":{"y":{"datum":2.5,"type":"quantitative"}}},
{"transform":[{"filter":"datum.k === 's'"}],"mark":{"type":"rule","color":"#F2F2F2","strokeWidth":0.6},"encoding":{"y":{"datum":7.5,"type":"quantitative"}}},
{"transform":[{"filter":"datum.k === 's'"}],"mark":{"type":"rule","color":"#F2F2F2","strokeWidth":0.6},"encoding":{"x":{"datum":2009.5,"type":"quantitative"},"y":{"datum":-5.26,"type":"quantitative"},"y2":{"datum":12.31}}},
{"transform":[{"filter":"datum.k === 's'"}],"mark":{"type":"rule","color":"#F2F2F2","strokeWidth":0.6},"encoding":{"x":{"datum":2010.5,"type":"quantitative"},"y":{"datum":-5.26,"type":"quantitative"},"y2":{"datum":12.31}}},
{"transform":[{"filter":"datum.k === 's'"}],"mark":{"type":"rule","color":"#F2F2F2","strokeWidth":0.6},"encoding":{"x":{"datum":2011.5,"type":"quantitative"},"y":{"datum":-5.26,"type":"quantitative"},"y2":{"datum":12.31}}},
{"transform":[{"filter":"datum.k === 's'"}],"mark":{"type":"rule","color":"#F2F2F2","strokeWidth":0.6},"encoding":{"x":{"datum":2012.5,"type":"quantitative"},"y":{"datum":-5.26,"type":"quantitative"},"y2":{"datum":12.31}}},
{"transform":[{"filter":"datum.k === 's'"}],"mark":{"type":"rule","color":"#F2F2F2","strokeWidth":0.6},"encoding":{"x":{"datum":2013.5,"type":"quantitative"},"y":{"datum":-5.26,"type":"quantitative"},"y2":{"datum":12.31}}},
{"transform":[{"filter":"datum.k === 's'"}],"mark":{"type":"rule","color":"#F2F2F2","strokeWidth":0.6},"encoding":{"x":{"datum":2014.5,"type":"quantitative"},"y":{"datum":-5.26,"type":"quantitative"},"y2":{"datum":12.31}}},
{"transform":[{"filter":"datum.k === 's'"}],"mark":{"type":"rect","color":"#CCCCCC"},"encoding":{
"x":{"datum":2008.78,"type":"quantitative","scale":{"domain":[2008.78,2015.18],"nice":false,"zero":false},"axis":{"values":[2009,2010,2011,2012,2013,2014,2015],"tickCount":30,"labels":false,"ticks":false,"domain":false,"title":null,"grid":true,"gridColor":"#FFFFFF","gridWidth":1}},
"x2":{"datum":2015.18},
"y":{"datum":12.31,"type":"quantitative","scale":{"domain":[-5.26,15.13],"nice":false,"zero":false},"axis":{"values":[-5,0,5,10],"tickCount":30,"title":null,"domain":false,"grid":true,"gridColor":"#FFFFFF","gridWidth":1,"labelOverlap":false,"labelBound":false,"labelFlush":false,"labelExpr":"'' + datum.value"}},
"y2":{"datum":15.13}}},
{"transform":[{"filter":"datum.k === 's'"}],"mark":{"type":"text","fontSize":8,"color":"#1A1A1A","baseline":"middle","align":"center"},"encoding":{"x":{"datum":2011.98,"type":"quantitative"},"y":{"datum":13.72,"type":"quantitative"},"text":{"field":"p","type":"nominal"}}},
{"transform":[{"filter":"isValid(datum.f)"}],"mark":{"type":"area","color":"#999999","opacity":0.4,"interpolate":"natural","clip":true},"encoding":{"x":{"field":"t","type":"quantitative"},"y":{"field":"lo","type":"quantitative"},"y2":{"field":"hi"}}},
{"transform":[{"filter":"isValid(datum.v)"}],"mark":{"type":"circle","size":12,"opacity":1},"encoding":{"x":{"field":"t","type":"quantitative"},"y":{"field":"v","type":"quantitative"},"color":{"condition":{"test":"datum.v > 3.92","value":"#FF0000"},"value":"#0000FF"}}},
{"transform":[{"filter":"datum.k === 's'"}],"mark":{"type":"rule","color":"#FF0000","strokeWidth":1},"encoding":{"y":{"datum":3.92,"type":"quantitative"}}},
{"transform":[{"filter":"isValid(datum.f)"}],"mark":{"type":"line","color":"#3366FF","strokeWidth":1},"encoding":{"x":{"field":"t","type":"quantitative"},"y":{"field":"f","type":"quantitative"}}}
]}},
{"spacing":3.2,"hconcat":[
{"data":{"name":"d"},"transform":[{"filter":"datum.p === 'S008'"}],"width":135.5,"height":79.5,
"layer":[
{"transform":[{"filter":"datum.k === 's'"}],"mark":{"type":"rule","color":"#F2F2F2","strokeWidth":0.6},"encoding":{"y":{"datum":-2.5,"type":"quantitative"}}},
{"transform":[{"filter":"datum.k === 's'"}],"mark":{"type":"rule","color":"#F2F2F2","strokeWidth":0.6},"encoding":{"y":{"datum":2.5,"type":"quantitative"}}},
{"transform":[{"filter":"datum.k === 's'"}],"mark":{"type":"rule","color":"#F2F2F2","strokeWidth":0.6},"encoding":{"y":{"datum":7.5,"type":"quantitative"}}},
{"transform":[{"filter":"datum.k === 's'"}],"mark":{"type":"rule","color":"#F2F2F2","strokeWidth":0.6},"encoding":{"x":{"datum":2009.5,"type":"quantitative"},"y":{"datum":-5.26,"type":"quantitative"},"y2":{"datum":12.31}}},
{"transform":[{"filter":"datum.k === 's'"}],"mark":{"type":"rule","color":"#F2F2F2","strokeWidth":0.6},"encoding":{"x":{"datum":2010.5,"type":"quantitative"},"y":{"datum":-5.26,"type":"quantitative"},"y2":{"datum":12.31}}},
{"transform":[{"filter":"datum.k === 's'"}],"mark":{"type":"rule","color":"#F2F2F2","strokeWidth":0.6},"encoding":{"x":{"datum":2011.5,"type":"quantitative"},"y":{"datum":-5.26,"type":"quantitative"},"y2":{"datum":12.31}}},
{"transform":[{"filter":"datum.k === 's'"}],"mark":{"type":"rule","color":"#F2F2F2","strokeWidth":0.6},"encoding":{"x":{"datum":2012.5,"type":"quantitative"},"y":{"datum":-5.26,"type":"quantitative"},"y2":{"datum":12.31}}},
{"transform":[{"filter":"datum.k === 's'"}],"mark":{"type":"rule","color":"#F2F2F2","strokeWidth":0.6},"encoding":{"x":{"datum":2013.5,"type":"quantitative"},"y":{"datum":-5.26,"type":"quantitative"},"y2":{"datum":12.31}}},
{"transform":[{"filter":"datum.k === 's'"}],"mark":{"type":"rule","color":"#F2F2F2","strokeWidth":0.6},"encoding":{"x":{"datum":2014.5,"type":"quantitative"},"y":{"datum":-5.26,"type":"quantitative"},"y2":{"datum":12.31}}},
{"transform":[{"filter":"datum.k === 's'"}],"mark":{"type":"rect","color":"#CCCCCC"},"encoding":{
"x":{"datum":2008.78,"type":"quantitative","scale":{"domain":[2008.78,2015.18],"nice":false,"zero":false},"axis":{"values":[2009,2010,2011,2012,2013,2014,2015],"tickCount":30,"format":"d","title":null,"domain":false,"grid":true,"gridColor":"#FFFFFF","gridWidth":1,"labelAngle":-90,"labelFlush":false,"labelOverlap":false,"labelBound":false}},
"x2":{"datum":2015.18},
"y":{"datum":12.31,"type":"quantitative","scale":{"domain":[-5.26,15.13],"nice":false,"zero":false},"axis":{"values":[-5,0,5,10],"tickCount":30,"title":null,"domain":false,"grid":true,"gridColor":"#FFFFFF","gridWidth":1,"labelOverlap":false,"labelBound":false,"labelFlush":false,"labelExpr":"'' + datum.value"}},
"y2":{"datum":15.13}}},
{"transform":[{"filter":"datum.k === 's'"}],"mark":{"type":"text","fontSize":8,"color":"#1A1A1A","baseline":"middle","align":"center"},"encoding":{"x":{"datum":2011.98,"type":"quantitative"},"y":{"datum":13.72,"type":"quantitative"},"text":{"field":"p","type":"nominal"}}},
{"transform":[{"filter":"isValid(datum.f)"}],"mark":{"type":"area","color":"#999999","opacity":0.4,"interpolate":"natural","clip":true},"encoding":{"x":{"field":"t","type":"quantitative"},"y":{"field":"lo","type":"quantitative"},"y2":{"field":"hi"}}},
{"transform":[{"filter":"isValid(datum.v)"}],"mark":{"type":"circle","size":12,"opacity":1},"encoding":{"x":{"field":"t","type":"quantitative"},"y":{"field":"v","type":"quantitative"},"color":{"condition":{"test":"datum.v > 3.92","value":"#FF0000"},"value":"#0000FF"}}},
{"transform":[{"filter":"datum.k === 's'"}],"mark":{"type":"rule","color":"#FF0000","strokeWidth":1},"encoding":{"y":{"datum":3.92,"type":"quantitative"}}},
{"transform":[{"filter":"isValid(datum.f)"}],"mark":{"type":"line","color":"#3366FF","strokeWidth":1},"encoding":{"x":{"field":"t","type":"quantitative"},"y":{"field":"f","type":"quantitative"}}}
]},
{"width":412,"height":79.5,"view":{"fill":"white","stroke":null},"data":{"values":[{}]},
"mark":{"type":"text","text":["Plot dati chimici in R/Ggplot2","(Wickham H., 2009)"],"fontSize":24,"lineHeight":29,"font":"Liberation Sans","color":"#000000","align":"center","baseline":"middle","dx":12,"dy":-7}}
]}
]}]
}
